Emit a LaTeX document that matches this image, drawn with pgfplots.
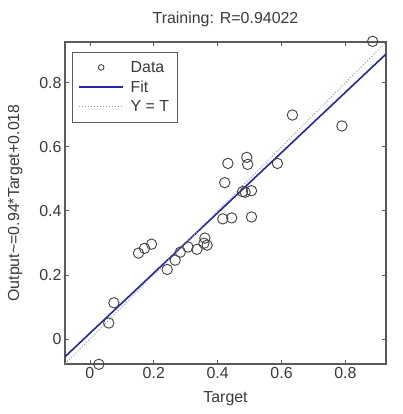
\documentclass[border=0pt]{standalone}
\usepackage{pgfplots}
\pgfplotsset{compat=1.18}
\usepackage{fontspec}
\setmainfont{Liberation Sans}
\definecolor{txt}{HTML}{3A3A3A}
\definecolor{axl}{HTML}{5A5A5A}
\definecolor{fitc}{HTML}{2525A5}
\definecolor{ytc}{HTML}{8A9AC8}
\begin{document}
\begin{tikzpicture}
\useasboundingbox (-65bp,-50bp) rectangle (338bp,364bp);
\begin{axis}[
  at={(0,0)}, anchor=south west,
  scale only axis, width=321bp, height=322bp,
  xmin=-0.078, xmax=0.927, ymin=-0.078, ymax=0.927,
  clip=false,
  xtick={0,0.2,0.4,0.6,0.8}, ytick={0,0.2,0.4,0.6,0.8},
  tick align=inside, major tick length=4bp,
  axis line style={axl, line width=1.2bp},
  every tick/.style={axl, line width=0.8bp},
  /pgf/number format/assume math mode=true,
  tick label style={font=\fontsize{16}{18}\selectfont, text=txt},
  label style={font=\fontsize{16}{18}\selectfont, text=txt},
  title style={font=\fontsize{16}{18}\selectfont, text=txt, yshift=6bp},
  title={Training: R=0.94022},
  xlabel={Target},
  ylabel={Output\textasciitilde=0.94*Target+0.018},
  xlabel style={yshift=-6bp},
  ylabel style={yshift=10bp},
  legend cell align=left,
  legend image code/.code={\path[draw=none,fill=none] (0cm,0cm) -- (1.75cm,0cm); \draw[mark repeat=2,mark phase=2,#1] plot coordinates {(0cm,0cm) (0.78cm,0cm) (1.56cm,0cm)};},
  legend style={at={(0.022,0.969)}, anchor=north west, draw=axl,
    font=\fontsize{16}{18}\selectfont, text=txt, row sep=3bp, inner xsep=6bp, inner ysep=7bp},
]
\addplot[only marks, mark=o, mark size=5.2bp, black!75, mark options={line width=0.9bp},
  legend image post style={mark size=2.8bp}]
coordinates {
(0.028,-0.079) (0.059,0.050) (0.075,0.113) (0.152,0.268) (0.171,0.283)
(0.193,0.296) (0.242,0.217) (0.267,0.246) (0.283,0.271) (0.307,0.287)
(0.335,0.280) (0.357,0.299) (0.360,0.315) (0.367,0.293) (0.416,0.375)
(0.444,0.378) (0.422,0.488) (0.432,0.548) (0.478,0.460) (0.486,0.458)
(0.491,0.567) (0.494,0.545) (0.506,0.463) (0.506,0.381) (0.587,0.548)
(0.634,0.699) (0.789,0.665) (0.885,0.929)
};
\addlegendentry{Data}
\addplot[fitc, line width=1.6bp, no marks]
coordinates {(-0.078,-0.0553) (0.927,0.8894)};
\addlegendentry{Fit}
\addplot[ytc, line width=1bp, dotted, no marks]
coordinates {(-0.078,-0.078) (0.927,0.927)};
\addlegendentry{Y = T}
\end{axis}
\end{tikzpicture}
\end{document}
